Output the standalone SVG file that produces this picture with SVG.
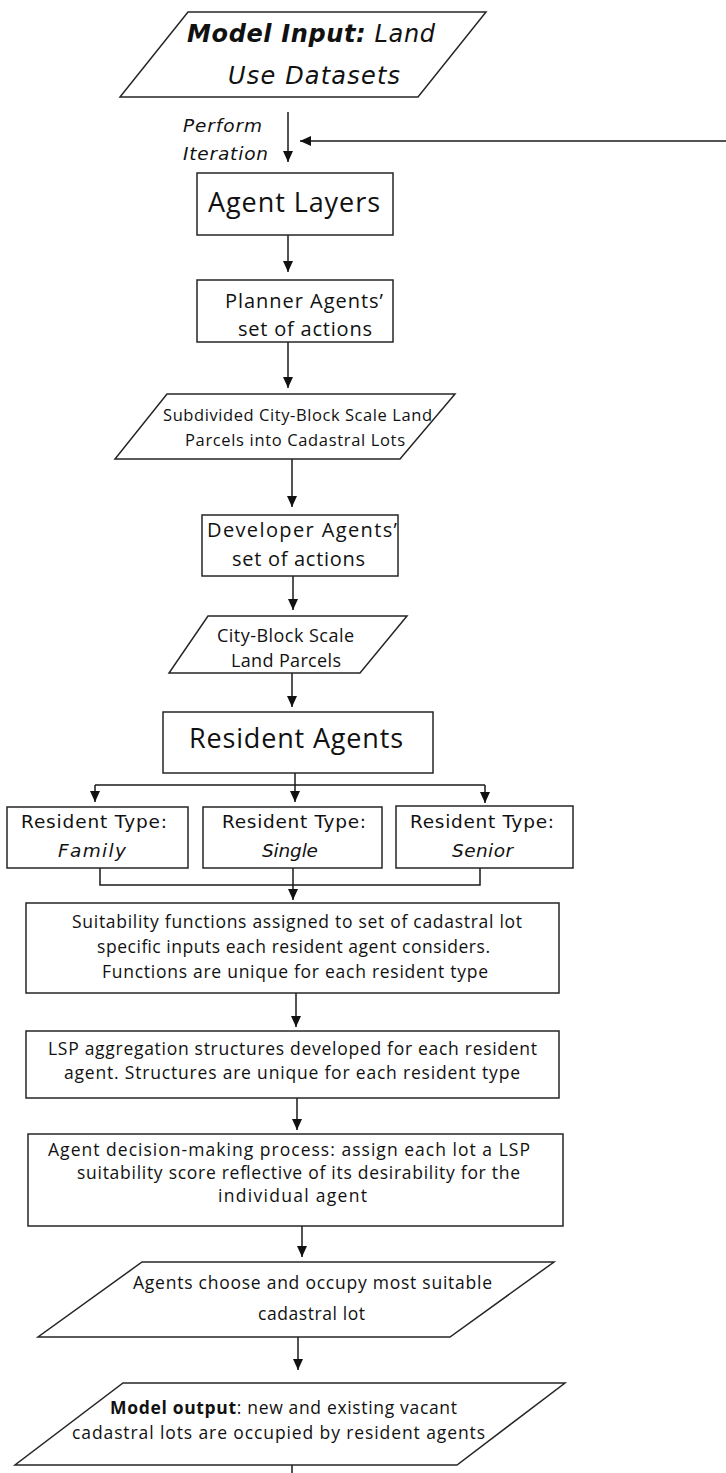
<svg xmlns="http://www.w3.org/2000/svg" width="726" height="1473" viewBox="0 0 726 1473">
<style>
.box{fill:#fff;stroke:#262626;stroke-width:1.5}
.ln{fill:none;stroke:#1a1a1a;stroke-width:1.5}
.arr{marker-end:url(#ah)}
.t{font-family:"Open Sans","Liberation Sans",sans-serif;fill:#111}
.v{font-family:"DejaVu Sans",Verdana,sans-serif;fill:#111}
.i{font-style:italic}
.b{font-weight:bold}
</style>
<defs>
<marker id="ah" viewBox="0 0 11 10" refX="11" refY="5" markerWidth="11" markerHeight="10" orient="auto" markerUnits="userSpaceOnUse">
<path d="M0,0 L11,5 L0,10 z" fill="#111"/>
</marker>
</defs>
<rect width="726" height="1473" fill="#fff"/>

<g id="connectors">
<line class="ln arr" x1="288" y1="112" x2="288" y2="162"/>
<line class="ln arr" x1="726" y1="141" x2="300" y2="141"/>
<line class="ln arr" x1="288" y1="235" x2="288" y2="272"/>
<line class="ln arr" x1="288" y1="342" x2="288" y2="388"/>
<line class="ln arr" x1="292" y1="459" x2="292" y2="507"/>
<line class="ln arr" x1="293" y1="576" x2="293" y2="610"/>
<line class="ln arr" x1="292" y1="673" x2="292" y2="707"/>
<line class="ln" x1="295" y1="773" x2="295" y2="785"/>
<line class="ln" x1="95" y1="785" x2="485" y2="785"/>
<line class="ln arr" x1="95" y1="785" x2="95" y2="802"/>
<line class="ln arr" x1="295" y1="785" x2="295" y2="802"/>
<line class="ln arr" x1="485" y1="785" x2="485" y2="803"/>
<polyline class="ln" points="100,868 100,885 480,885 480,868"/>
<line class="ln arr" x1="293" y1="868" x2="293" y2="900"/>
<line class="ln arr" x1="296" y1="993" x2="296" y2="1027"/>
<line class="ln arr" x1="297" y1="1098" x2="297" y2="1130"/>
<line class="ln arr" x1="302" y1="1226" x2="302" y2="1257"/>
<line class="ln arr" x1="298" y1="1337" x2="298" y2="1370"/>
<line class="ln" x1="292" y1="1465" x2="292" y2="1473"/>
</g>

<g id="label-iteration">
<text class="v i" x="183" y="132" font-size="18.5" textLength="79">Perform</text>
<text class="v i" x="183" y="160" font-size="18.5" textLength="85">Iteration</text>
</g>

<g id="model-input">
<polygon class="box" points="188,12 486,12 418,97 120,97"/>
<text class="v" x="187" y="42" font-size="24" textLength="248"><tspan class="b i">Model Input:</tspan><tspan class="i"> Land</tspan></text>
<text class="v i" x="228" y="84" font-size="24" textLength="172">Use Datasets</text>
</g>

<g id="agent-layers">
<rect class="box" x="197" y="173" width="196" height="62"/>
<text class="t" x="208" y="212" font-size="27" textLength="172">Agent Layers</text>
</g>

<g id="planner-agents">
<rect class="box" x="197" y="280" width="196" height="62"/>
<text class="t" x="225" y="308" font-size="20" textLength="158">Planner Agents’</text>
<text class="t" x="238" y="336" font-size="20" textLength="134">set of actions</text>
</g>

<g id="subdivided-parcels">
<polygon class="box" points="167,394 455,394 400,459 115,459"/>
<text class="t" x="163" y="421" font-size="16.5" textLength="269">Subdivided City-Block Scale Land</text>
<text class="t" x="185" y="446" font-size="16.5" textLength="220">Parcels into Cadastral Lots</text>
</g>

<g id="developer-agents">
<rect class="box" x="202" y="515" width="196" height="61"/>
<text class="t" x="207" y="537" font-size="20" textLength="190">Developer Agents’</text>
<text class="t" x="232" y="566" font-size="20" textLength="133">set of actions</text>
</g>

<g id="city-block-parcels">
<polygon class="box" points="208,616 407,616 360,673 169,673"/>
<text class="t" x="217" y="642" font-size="18" textLength="137">City-Block Scale</text>
<text class="t" x="231" y="667" font-size="18" textLength="110">Land Parcels</text>
</g>

<g id="resident-agents">
<rect class="box" x="163" y="712" width="270" height="61"/>
<text class="t" x="189" y="748" font-size="27" textLength="214">Resident Agents</text>
</g>

<g id="type-family">
<rect class="box" x="7" y="807" width="181" height="61"/>
<text class="v" x="21" y="828" font-size="18.5" textLength="146">Resident Type:</text>
<text class="v i" x="58" y="857" font-size="18.5" textLength="68">Family</text>
</g>

<g id="type-single">
<rect class="box" x="203" y="807" width="179" height="61"/>
<text class="v" x="222" y="828" font-size="18.5" textLength="144">Resident Type:</text>
<text class="v i" x="262" y="857" font-size="18.5" textLength="56">Single</text>
</g>

<g id="type-senior">
<rect class="box" x="396" y="806" width="177" height="62"/>
<text class="v" x="410" y="828" font-size="18.5" textLength="144">Resident Type:</text>
<text class="v i" x="452" y="857" font-size="18.5" textLength="61">Senior</text>
</g>

<g id="suitability-functions">
<rect class="box" x="26" y="903" width="533" height="90"/>
<text class="t" x="72" y="928" font-size="17.5" textLength="450">Suitability functions assigned to set of cadastral lot</text>
<text class="t" x="97" y="953" font-size="17.5" textLength="393">specific inputs each resident agent considers.</text>
<text class="t" x="102" y="978" font-size="17.5" textLength="386">Functions are unique for each resident type</text>
</g>

<g id="lsp-structures">
<rect class="box" x="26" y="1031" width="533" height="67"/>
<text class="t" x="48" y="1055" font-size="17.5" textLength="489">LSP aggregation structures developed for each resident</text>
<text class="t" x="64" y="1079" font-size="17.5" textLength="456">agent. Structures are unique for each resident type</text>
</g>

<g id="decision-process">
<rect class="box" x="28" y="1134" width="535" height="92"/>
<text class="t" x="48" y="1156" font-size="17.5" textLength="482">Agent decision-making process: assign each lot a LSP</text>
<text class="t" x="77" y="1179" font-size="17.5" textLength="443">suitability score reflective of its desirability for the</text>
<text class="t" x="218" y="1202" font-size="17.5" textLength="149">individual agent</text>
</g>

<g id="choose-lot">
<polygon class="box" points="142,1262 554,1262 450,1337 38,1337"/>
<text class="t" x="133" y="1289" font-size="17.5" textLength="359">Agents choose and occupy most suitable</text>
<text class="t" x="258" y="1320" font-size="17.5" textLength="107">cadastral lot</text>
</g>

<g id="model-output">
<polygon class="box" points="123,1383 565,1383 457,1465 15,1465"/>
<text class="t" x="110" y="1414" font-size="17.5" textLength="347"><tspan class="b">Model output</tspan>: new and existing vacant</text>
<text class="t" x="72" y="1439" font-size="17.5" textLength="413">cadastral lots are occupied by resident agents</text>
</g>
</svg>
